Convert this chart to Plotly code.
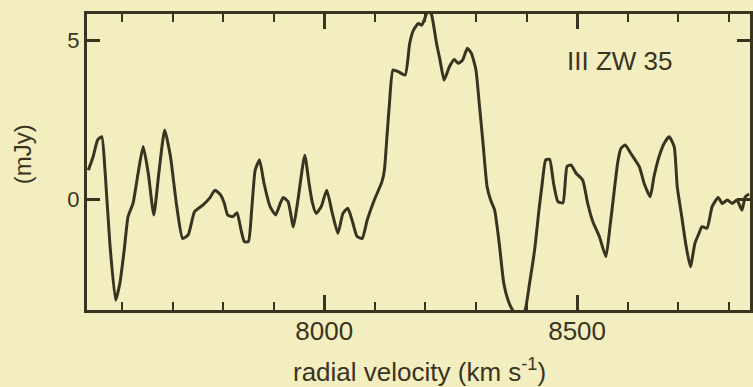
import plotly.graph_objects as go

velocity = [7533.5, 7543, 7552, 7560, 7566.5, 7576, 7587.5, 7596, 7604.5, 7612, 7622, 7632, 7642, 7652,
            7663, 7673, 7684.5, 7696, 7707.5, 7720, 7731, 7743.5, 7760, 7773, 7784, 7795, 7802.5, 7809,
            7819, 7827.5, 7835.5, 7842, 7850, 7856.5, 7863.5, 7872, 7881, 7893, 7904, 7913, 7919, 7928.5,
            7939, 7948, 7961.5, 7970, 7976, 7984, 7994, 8005, 8016, 8027, 8037, 8046.5, 8055, 8065, 8075,
            8085, 8099, 8114, 8119, 8124, 8129, 8136, 8147, 8160, 8169, 8176.5, 8186, 8193, 8200, 8206,
            8212.6, 8222, 8229, 8237, 8247.5, 8257, 8265, 8273.5, 8283, 8291, 8300, 8306.5, 8314, 8322,
            8329, 8337, 8346, 8355, 8363.5, 8373, 8386, 8397, 8406, 8416, 8424.6, 8431, 8438, 8445.6,
            8453.5, 8462, 8472, 8480, 8488, 8498, 8511, 8521, 8531, 8544, 8557, 8565, 8573.6, 8580, 8586.6,
            8595, 8606, 8623, 8632.7, 8644.5, 8652, 8662, 8672, 8682, 8692, 8698, 8707, 8714.6, 8724, 8733,
            8741, 8747, 8757, 8767, 8779, 8787, 8797, 8806.5, 8816, 8826, 8832.5, 8840]
flux_mjy = [0.91, 1.33, 1.86, 1.96, 0.91, -1.38, -3.18, -2.64, -1.60, -0.56, -0.13, 0.82, 1.65, 0.82,
            -0.50, 0.82, 2.17, 1.33, -0.13, -1.24, -1.13, -0.40, -0.19, 0.02, 0.28, 0.13, -0.14, -0.50,
            -0.56, -0.43, -0.97, -1.34, -1.34, -0.35, 0.91, 1.23, 0.49, -0.24, -0.50, -0.14, 0.05, -0.08,
            -0.87, -0.03, 1.38, 0.49, -0.08, -0.45, -0.24, 0.28, -0.45, -1.08, -0.45, -0.29, -0.66, -1.18, -1.24,
            -0.66, -0.03, 0.54, 0.91, 1.96, 3.01, 4.06, 4.00, 3.90, 4.90, 5.31, 5.52, 5.47, 5.73, 6.0,
            5.78, 4.90, 4.37, 3.74, 4.16, 4.39, 4.27, 4.37, 4.74, 4.58, 4.06, 3.01, 1.75, 0.39,
            -0.03, -0.35, -1.39, -2.65, -3.18, -3.5, -3.7, -3.5, -2.65, -1.60, -0.35, 0.49, 1.23, 1.25,
            0.49, -0.08, -0.12, 1.02, 1.07, 0.81, 0.60, -0.14, -0.71, -1.18, -1.81, -0.87, 0.28, 1.12, 1.59,
            1.70, 1.44, 1.02, 0.49, 0.07, 0.70, 1.33, 1.75, 1.96, 1.65, 0.39, -0.56, -1.39, -2.13, -1.39,
            -1.08, -0.87, -0.92, -0.24, 0.05, -0.14, -0.03, -0.14, -0.03, -0.35, 0.07, 0.16]

x_major_ticks = [8000, 8500]
x_major_labels = ["8000", "8500"]
y_ticks = [0, 5]
y_labels = ["0", "5"]
source_label = "III ZW 35"
x_title = "radial velocity (km s<sup>-1</sup>)"
y_title = "(mJy)"

BG = "#F3EEC0"
INK = "#3A3320"
FONT = "Liberation Sans, Arial, sans-serif"

fig = go.Figure()
fig.add_trace(go.Scatter(x=velocity, y=flux_mjy, mode="lines",
                         line=dict(color=INK, width=3, shape="spline", smoothing=0.5),
                         showlegend=False))

fig.update_layout(
    width=753, height=387,
    margin=dict(l=87, r=0, t=14, b=77),
    paper_bgcolor=BG, plot_bgcolor=BG,
    font=dict(family=FONT, color=INK),
    xaxis=dict(range=[7530.9, 8841.9], tickvals=x_major_ticks, ticktext=x_major_labels,
               ticks="inside", ticklen=15, tickwidth=2.5, tickcolor=INK,
               minor=dict(dtick=100, tick0=7500, ticks="inside", ticklen=8, tickwidth=2, tickcolor=INK),
               showline=True, linewidth=3, linecolor=INK, mirror="ticks",
               showgrid=False, zeroline=False, tickfont=dict(size=26, color=INK),
               ticklabelstandoff=-4),
    yaxis=dict(range=[-3.49, 5.82], tickvals=y_ticks, ticktext=y_labels,
               ticks="inside", ticklen=13, tickwidth=2.5, tickcolor=INK,
               showline=True, linewidth=3, linecolor=INK, mirror="ticks",
               showgrid=False, zeroline=False, tickfont=dict(size=22, color=INK)),
    annotations=[
        dict(text=source_label, x=8584, y=4.34, xref="x", yref="y", showarrow=False,
             font=dict(size=26, color=INK), xanchor="center", yanchor="middle"),
        dict(text=x_title, x=0.5015, y=-0.205, xref="paper", yref="paper", showarrow=False,
             font=dict(size=26, color=INK), xanchor="center", yanchor="middle"),
        dict(text=y_title, x=-0.0976, y=0.527, xref="paper", yref="paper", showarrow=False,
             textangle=-90, font=dict(size=24, color=INK), xanchor="center", yanchor="middle"),
    ],
)

fig.write_html("out.html", config={"displayModeBar": False},
               post_script="document.body.style.margin='0';document.body.style.background='" + BG + "';")
